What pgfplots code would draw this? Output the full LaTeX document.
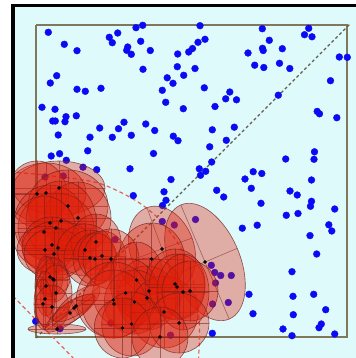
\documentclass[border=0pt]{standalone}
\usepackage{pgfplots}
\usepackage{pgfplotstable}
\pgfplotsset{compat=1.18}
\definecolor{bgc}{RGB}{222,250,250}
\definecolor{frameol}{RGB}{128,120,90}
\definecolor{ellfill}{RGB}{225,30,8}
\definecolor{elldraw}{RGB}{110,30,30}
\definecolor{rdash}{RGB}{232,100,90}
\definecolor{gdash}{RGB}{95,95,80}
\definecolor{bluept}{RGB}{10,10,245}

\pgfdeclareplotmark{ell}{%
  \pgfscope
  \pgftransformrotate{\ellang}%
  \pgfpathellipse{\pgfpointorigin}{\pgfpoint{\ellrx bp}{0pt}}{\pgfpoint{0pt}{\ellry bp}}%
  \pgfusepath{fill,stroke}%
  \pgfsetstrokeopacity{0.55}%
  \pgfpathmoveto{\pgfpoint{-\ellrx bp}{0pt}}\pgfpathlineto{\pgfpoint{\ellrx bp}{0pt}}%
  \pgfpathmoveto{\pgfpoint{0pt}{-\ellry bp}}\pgfpathlineto{\pgfpoint{0pt}{\ellry bp}}%
  \pgfusepath{stroke}%
  \endpgfscope
}

\pgfplotstableread{
x y
48.3 -32.3
64.3 -44.3
77 -50.7
109.3 -37.3
112.3 -42.7
117.7 -33
136 -27.7
142.7 -25.3
140.7 -41.3
127.7 -47
126.7 -50.3
131.3 -54.3
150.3 -50.5
177.7 -54
188.7 -52
192.5 -48.5
177.3 -66.7
195 -68.5
143 -69.3
56.7 -75.7
50.3 -83
167.2 -77.8
173 -83.3
183.7 -75.3
77 -89.3
85.3 -91.3
101 -88.3
162.3 -90.3
165.7 -102.3
183.3 -108.7
42 -107.3
55 -109.3
66 -116.7
65 -121.7
52.7 -121
55.3 -121
76.3 -115.8
99.7 -128
124 -122.2
118.5 -128.7
145.8 -124
154.7 -130.5
200 -25.7
262.3 -28.7
308.7 -28.3
304.5 -34.7
312 -36.8
205 -39.3
198 -42.3
269.3 -40.3
262.5 -48.3
263.2 -50.5
282.3 -48.7
248 -53
254.7 -65.2
263.8 -67.5
279.5 -63.3
289.8 -68.5
339.3 -57
347.3 -57.3
330.5 -80.7
204.3 -87.8
229.8 -92
225.7 -98.8
236.5 -99.8
278.3 -95.2
215 -106.5
317.2 -111.4
319.5 -113.8
336.8 -117.7
212.3 -129.8
234.3 -127.2
58.2 -135
90 -137.2
112.3 -137.3
131.3 -135.3
173.3 -136.2
178 -140.7
87.7 -150.8
153.5 -153.5
51.2 -156
59.6 -153.7
66.3 -160.3
83 -167.2
96.7 -169.7
130 -168.8
171 -179.5
164 -191.8
133.3 -195.6
166 -200.3
162.5 -205.5
209.7 -146.8
226.3 -140.3
211.7 -162
199.3 -168.8
205.7 -171.3
200.5 -175.3
216.7 -190.3
223.7 -197
253.2 -171.7
261.8 -173.5
245 -179
251.3 -188.3
261 -203.3
285.7 -159
314.5 -151.8
314 -159.3
311.5 -180
290 -191
297.2 -195
311.5 -201.3
310.5 -206.3
334.7 -209
286.3 -215.3
298 -213.5
257.2 -225.2
242.3 -228.2
328.8 -224.8
331.8 -231
310 -235.6
316.7 -254
292 -271.7
249 -294.3
293 -296.3
313.7 -294.3
253 -313.7
293.3 -314.7
325.7 -309.7
321.3 -324
319 -327.7
283 -329
292 -335.7
334.7 -334
212.3 -333.3
45 -177
63.3 -176
162.3 -221.5
174.3 -225
195.5 -219.5
211.3 -265.3
214.7 -272.5
220.7 -275.5
231.3 -275.5
215.5 -283
228.3 -302.5
212.5 -304
35.7 -321.3
60 -328.7
170.5 -335.2
115 -239.5
111 -323
}\bluepts

\pgfplotstableread{
x y rx ry ang
59 -188 46 27 0
46 -193 40 30 0
37 -194 30 33 0
68 -206 40 36 0
78 -218 33 36 0
50 -223 36 38 0
56 -228 38 35 0
61 -221 35 40 0
44 -232 32 36 0
52 -245 30 28 0
58 -248 36 27 0
45 -250 28 24 0
54 -254 30 26 0
96 -242 25 28 0
85 -250 28 26 0
90 -258 26 28 0
95 -259 22 26 0
102 -256 24 25 0
50 -277 13 20 0
53 -279 17 16 0
54 -280 14 22 0
46 -286 11 30 0
56 -293 16 28 0
45 -299 10 28 0
43 -304 9 25 0
52 -307 17 22 0
70 -313 30 9 36
76 -306 30 11 40
74 -308 24 8 30
57 -329 29 5 0
162 -249 32 44 20
205 -262 35 62 23
151.7 -259 33 36 0
111 -259 28 30 0
136.7 -280 27 38 0
149 -291 33 33 0
147 -298 30 32 0
125.7 -293 33 35 0
134.3 -302 30 32 0
113.3 -300 37 38 0
114 -304 32 34 0
164 -312 34 36 0
175 -284 30 35 0
177 -287 28 33 0
183 -292 26 38 0
190 -291 28 30 0
179 -323 30 30 0
131.7 -324 30 32 0
122.3 -328 28 30 0
160 -337 28 30 0
}\ells

\begin{document}
\begin{tikzpicture}
\begin{axis}[
  scale only axis, width=343bp, height=352bp,
  xmin=13, xmax=356, ymin=-358, ymax=-6,
  axis background/.style={fill=bgc},
  axis line style={draw=none},
  xtick=\empty, ytick=\empty,
  clip marker paths=true,
]
% inner frame
\addplot[frameol, line width=1.6bp, mark=none] coordinates {(36,-25) (347,-25) (347,-337) (36,-337) (36,-25)};
% grey dashed diagonal
\addplot[gdash, line width=1.3bp, dash pattern=on 3bp off 2.5bp, mark=none] coordinates {(36,-338) (350,-24)};
% red dashed boundary curves
\addplot[rdash, line width=1.2bp, dash pattern=on 4bp off 3bp, mark=none, smooth, tension=0.5] coordinates {
(10,-172.4) (20,-172.8) (40,-174.5) (60,-177) (80,-179.5) (100,-183.5) (120,-192) (140,-203.3) (157,-217) (170,-232) (182,-250) (191,-272) (196,-295) (199,-318) (199.5,-335) (198.5,-360)};
\addplot[rdash, line width=1.2bp, dash pattern=on 4bp off 3bp, mark=none] coordinates {(8,-291) (78,-363)};
% blue points
\addplot[only marks, mark=*, mark size=3.4bp, color=bluept, mark options={fill=bluept, draw=bluept}] table[x=x,y=y] {\bluepts};
% ellipses
\addplot[scatter, only marks, mark=ell,
  visualization depends on={\thisrow{rx} \as \ellrx},
  visualization depends on={\thisrow{ry} \as \ellry},
  visualization depends on={\thisrow{ang} \as \ellang},
  scatter/@pre marker code/.code={\begin{scope}},
  scatter/@post marker code/.code={\end{scope}},
  mark options={fill=ellfill, fill opacity=0.35, draw=elldraw, draw opacity=0.75, line width=0.6bp},
] table[x=x,y=y] {\ells};
% centers
\addplot[only marks, mark=*, mark size=1.5bp, black] table[x=x,y=y] {\ells};
\coordinate (SW) at (rel axis cs:0,0);
\coordinate (NE) at (rel axis cs:1,1);
\end{axis}
\draw[line width=3bp, black] (SW) |- (NE);
\pgfresetboundingbox
\path[use as bounding box] ([xshift=-13bp]SW) rectangle ([yshift=6bp]NE);
\end{tikzpicture}
\end{document}
